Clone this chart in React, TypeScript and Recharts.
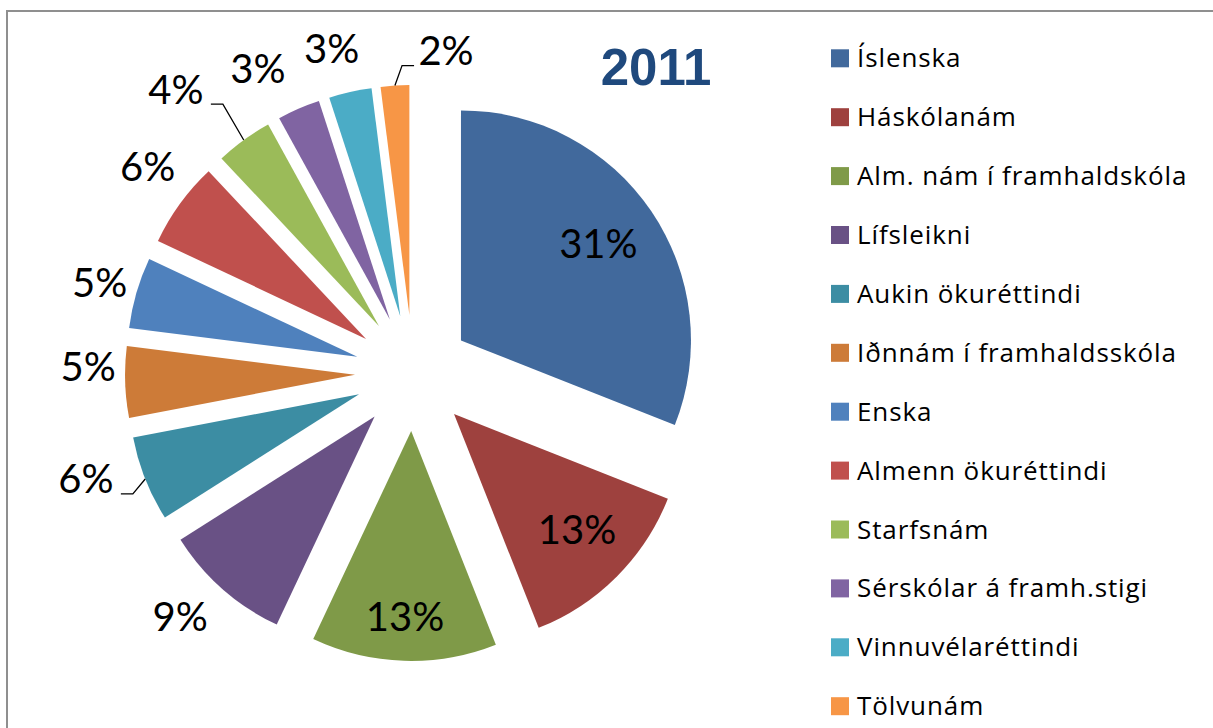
import React from 'react';
import { PieChart, Pie, Legend, Sector } from 'recharts';

const TITLE = '2011';
const CATEGORIES = [
  'Íslenska',
  'Háskólanám',
  'Alm. nám í framhaldskóla',
  'Lífsleikni',
  'Aukin ökuréttindi',
  'Iðnnám í framhaldsskóla',
  'Enska',
  'Almenn ökuréttindi',
  'Starfsnám',
  'Sérskólar á framh.stigi',
  'Vinnuvélaréttindi',
  'Tölvunám',
];
const VALUES = [31, 13, 13, 9, 6, 5, 5, 6, 4, 3, 3, 2];

const COLORS = [
  '#41699C', '#9E413E', '#7F9A48', '#695185', '#3C8DA3', '#CD7B38',
  '#4F81BD', '#C0504D', '#9BBB59', '#8064A2', '#4BACC6', '#F79646',
];

// label layout: [radial offset from outer radius (px), clockwise angle shift (deg), leader line]
const LABEL_LAYOUT: [number, number, boolean][] = [
  [-62, -0.9, false],
  [-61, -1.7, false],
  [-44, 0.1, false],
  [49, 2.8, false],
  [56, 4.4, true],
  [37, 3.5, false],
  [38, -0.2, false],
  [48, 2.2, false],
  [82, -4.6, true],
  [54, -4.3, false],
  [46, -1.8, false],
  [37, 11.5, true],
];

const data = CATEGORIES.map((name, i) => ({ name, value: VALUES[i] }));

const W = 1213;
const H = 728;
const CX = 413;
const CY = 373;
const R = 230;
const EXPLODE = 58;
const LABEL_FS = 40;
const FONT = 'Lato, "Open Sans", sans-serif';
const LEGEND_FONT = '"Open Sans", Lato, sans-serif';

const RAD = Math.PI / 180;
const polar = (cx: number, cy: number, r: number, angle: number) => ({
  x: cx + Math.cos(-RAD * angle) * r,
  y: cy + Math.sin(-RAD * angle) * r,
});

const renderSlice = (props: any) => {
  const { cx, cy, outerRadius, startAngle, endAngle, index, percent } = props;
  const mid = (startAngle + endAngle) / 2;
  const e = polar(cx, cy, EXPLODE, mid);
  const [dr, dAng, leader] = LABEL_LAYOUT[index];
  const lp = polar(e.x, e.y, outerRadius + dr, mid - dAng);
  let line: string | null = null;
  if (leader) {
    const arc = polar(e.x, e.y, outerRadius, mid);
    const yb = lp.y + 15;
    if (lp.x < arc.x) {
      line = `${lp.x + 35},${yb} ${lp.x + 47},${yb} ${arc.x},${arc.y}`;
    } else {
      line = `${lp.x - 32},${yb} ${lp.x - 44},${yb} ${arc.x},${arc.y}`;
    }
  }
  return (
    <g key={`slice-${index}`}>
      <Sector
        cx={e.x}
        cy={e.y}
        innerRadius={0}
        outerRadius={outerRadius}
        startAngle={startAngle}
        endAngle={endAngle}
        fill={COLORS[index]}
        stroke="none"
      />
      {line && <polyline points={line} fill="none" stroke="#000" strokeWidth={1.3} />}
      <text
        x={lp.x}
        y={lp.y + LABEL_FS * 0.36}
        textAnchor="middle"
        fontFamily={FONT}
        fontSize={LABEL_FS}
        fill="#000"
      >
        {`${Math.round(percent * 100)}%`}
      </text>
    </g>
  );
};

const LEG_X = 820;
const LEG_TOP = 49.3;
const LEG_STEP = 58.9;

const renderLegend = () => (
  <svg width={393} height={728} style={{ display: 'block' }}>
    {CATEGORIES.map((name, i) => {
      const y = LEG_TOP + i * LEG_STEP;
      return (
        <g key={name}>
          <rect x={11} y={y} width={18} height={18} fill={COLORS[i]} />
          <text
            x={37}
            y={y + 18}
            fontFamily={LEGEND_FONT}
            fontSize={26}
            letterSpacing={0.9}
            fill="#000"
          >
            {name}
          </text>
        </g>
      );
    })}
  </svg>
);

export default function App() {
  return (
    <div
      style={{
        position: 'absolute',
        left: 0,
        top: 0,
        width: W,
        height: H,
        overflow: 'hidden',
        background: '#fff',
      }}
    >
      <div
        style={{
          position: 'absolute',
          left: 6,
          top: 10,
          width: 1400,
          height: 900,
          border: '2px solid #8f8f8f',
        }}
      />
      <div style={{ position: 'absolute', left: 0, top: 0 }}>
        <PieChart width={W} height={H} margin={{ top: 0, right: 0, bottom: 0, left: 0 }}>
          <Pie
            data={data}
            dataKey="value"
            nameKey="name"
            cx={CX}
            cy={CY}
            outerRadius={R}
            startAngle={90}
            endAngle={-270}
            fill="none"
            stroke="none"
            label={renderSlice}
            labelLine={false}
            isAnimationActive={false}
          />
          <Legend
            layout="vertical"
            align="right"
            verticalAlign="top"
            wrapperStyle={{ left: LEG_X, right: 'auto', top: 0, width: 393, height: 728 }}
            content={renderLegend}
          />
        </PieChart>
      </div>
      <svg
        width={W}
        height={H}
        style={{ position: 'absolute', left: 0, top: 0, pointerEvents: 'none' }}
      >
        <text
          x={656}
          y={85}
          textAnchor="middle"
          fontFamily='"Liberation Sans", Arial, sans-serif'
          fontWeight="bold"
          fontSize={51}
          fill="#1F497D"
        >
          {TITLE}
        </text>
      </svg>
    </div>
  );
}
